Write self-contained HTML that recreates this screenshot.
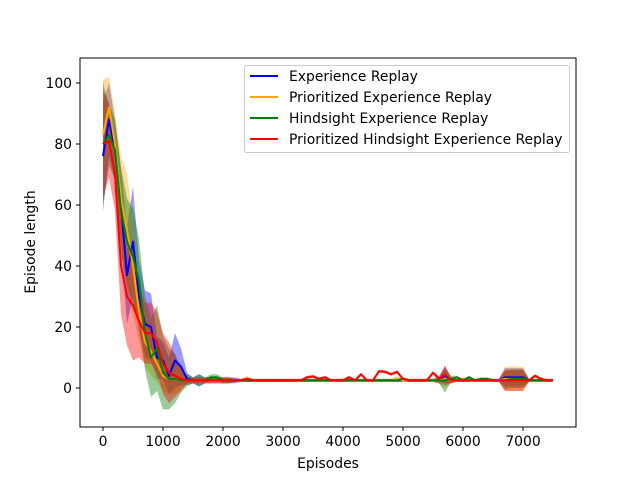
<!DOCTYPE html>
<html><head><meta charset="utf-8"><style>
body{margin:0;background:#fff;font-family:"DejaVu Sans","Liberation Sans",sans-serif;}
svg text{font-family:"DejaVu Sans","Liberation Sans",sans-serif;font-size:13.9px;fill:#000}
</style></head><body>
<svg id="chart" width="640" height="480" xmlns="http://www.w3.org/2000/svg">
<rect width="640" height="480" fill="#fff"/>
<g id="bands"></g>
<g id="lines"></g>
<rect x="80" y="58" width="496" height="369" fill="none" stroke="#000" stroke-width="1"/>
<g id="xticks"></g>
<g id="yticks"></g>
<text x="328" y="468" text-anchor="middle">Episodes</text>
<text transform="translate(35,242) rotate(-90)" text-anchor="middle">Episode length</text>
<g>
<rect x="244.5" y="65.5" width="325" height="87" rx="2" fill="#fff" fill-opacity="0.8" stroke="#ccc"/>
<g><line x1="250" y1="76" x2="278" y2="76" stroke="#0000ff" stroke-width="2"/><text x="289" y="81">Experience Replay</text></g>
<g><line x1="250" y1="97" x2="278" y2="97" stroke="#ffa500" stroke-width="2"/><text x="289" y="102">Prioritized Experience Replay</text></g>
<g><line x1="250" y1="118" x2="278" y2="118" stroke="#008000" stroke-width="2"/><text x="289" y="123">Hindsight Experience Replay</text></g>
<g><line x1="250" y1="139" x2="278" y2="139" stroke="#ff0000" stroke-width="2"/><text x="289" y="144">Prioritized Hindsight Experience Replay</text></g>
</g>
</svg>
<script>
const episodes = Array.from({length:76},(_, i)=>i*100);
const erMean = [76,88,78,60,37,48,30,21,20,10,9,4,9,7,3,2.5,2.5,2.5,2.5,2.5,2.5,2.5,2.5,2.5,2.5,2.5,2.5,2.5,2.5,2.5,2.5,2.5,2.5,2.5,2.5,2.5,2.5,2.5,2.5,2.5,2.5,2.5,2.5,2.5,2.5,2.5,2.5,2.5,2.5,2.5,2.5,2.5,2.5,2.5,2.5,2.5,2.5,4,2.5,2.5,2.5,2.5,2.5,2.5,2.5,2.5,2.5,3.5,3.5,3.5,3.5,2.5,2.5,2.5,2.5,2.5];
const erStd = [18,12,10,12,16,18,12,11,11,7,6,6,9,6,2,1,2,1,1,1,1,1,1,0.5,0.5,0.5,0.5,0.5,0.5,0.5,0.5,0.5,0.5,0.5,0.5,0.5,0.5,0.5,0.5,0.5,0.5,0.5,0.5,0.5,0.5,0.5,0.5,0.5,0.5,0.5,0.5,0.5,0.5,0.5,0.5,0.5,1,3,1,0.5,0.5,0.5,0.5,0.5,0.5,0.5,0.5,3,3,3,3,0.5,0.5,0.5,0.5,0.5];
const perMean = [83,92,80,62,52,40,25,15,12,8,4,3,3,2.5,2.5,2.5,2.5,2.5,2.5,2.5,2.5,2.5,2.5,2.5,3,2.5,2.5,2.5,2.5,2.5,2.5,2.5,2.5,2.5,2.5,2.5,2.5,2.5,2.5,2.5,2.5,2.5,2.5,2.5,2.5,2.5,2.5,2.5,2.5,3,2.5,2.5,2.5,2.5,2.5,2.5,2.5,3,2.5,2.5,3,2.5,2.5,2.5,2.5,2.5,2.5,3,3,3,3,2.5,2.5,2.5,2.5,2.5];
const perStd = [18,10,10,14,18,16,10,8,8,6,5,5,5,3,1,1,1,1,1,1,1,1,0.5,0.5,1,0.5,0.5,0.5,0.5,0.5,0.5,0.5,0.5,0.5,0.5,0.5,0.5,0.5,0.5,0.5,0.5,0.5,0.5,0.5,0.5,0.5,0.5,0.5,0.5,1,0.5,0.5,0.5,0.5,0.5,0.5,1,3,1,0.5,0.5,0.5,0.5,0.5,0.5,0.5,0.5,4,4,4,4,0.5,0.5,0.5,0.5,0.5];
const herMean = [80,83,78,58,48,43,35,18,10,13,5,3,3,2.5,2.5,2.5,2.5,2.5,3.5,3.5,2.5,2.5,2.5,2.5,2.5,2.5,2.5,2.5,2.5,2.5,2.5,2.5,2.5,2.5,2.5,2.5,2.5,2.5,2.5,2.5,2.5,2.5,2.5,2.5,2.5,2.5,2.5,2.5,2.5,2.5,3,2.5,2.5,2.5,2.5,2.5,2.5,2.5,3,3.5,2.5,3.5,2.5,3,3,2.5,2.5,2.5,3,3,3,2.5,2.5,2.5,2.5,2.5];
const herStd = [20,10,10,14,14,16,14,12,13,14,12,10,8,4,2,1,2,1,1,1,1,1,0.5,0.5,0.5,0.5,0.5,0.5,0.5,0.5,0.5,0.5,0.5,0.5,0.5,0.5,0.5,0.5,0.5,0.5,0.5,0.5,0.5,0.5,0.5,0.5,0.5,0.5,0.5,0.5,0.5,0.5,0.5,0.5,0.5,0.5,1,4,1,0.5,0.5,0.5,0.5,0.5,0.5,0.5,0.5,3,3,3,3,0.5,0.5,0.5,0.5,0.5];
const pherMean = [80,81,70,40,30,27,22,18,18,15,8,5,4,3,2.5,2.5,2.5,2.5,2.5,2.5,2.5,2.5,2.5,2.5,3,2.5,2.5,2.5,2.5,2.5,2.5,2.5,2.5,2.5,3.5,3.8,3,3.5,2.5,2.5,2.5,3.5,2.5,4.5,2.5,2.5,5.5,5.3,4.5,5.3,3,2.5,2.5,2.5,2.5,5,3,4.5,2.5,2.5,2.5,2.5,2.5,2.5,2.5,2.5,2.5,2.5,2.5,2.5,2.5,2.5,4,3,2.5,2.5];
const pherStd = [18,12,12,16,16,18,12,10,10,10,10,10,7,4,1,1,1,1,1,1,1,1,0.5,0.5,0.5,0.5,0.5,0.5,0.5,0.5,0.5,0.5,0.5,0.5,0.5,0.5,0.5,0.5,0.5,0.5,0.5,0.5,0.5,0.5,0.5,0.5,0.5,0.5,0.5,0.5,0.5,0.5,0.5,0.5,0.5,0.5,1,3,1,0.5,0.5,0.5,0.5,0.5,0.5,0.5,0.5,3.5,3.5,3.5,3.5,0.5,0.5,0.5,0.5,0.5];
const xTicks = [0,1000,2000,3000,4000,5000,6000,7000];
const yTicks = [0,20,40,60,80,100];

const NS="http://www.w3.org/2000/svg";
const xs = v => 103 + v*0.06;
const ys = v => 388 - v*3.05;
const series = [
 {name:'er', m:erMean, s:erStd, c:'#0000ff'},
 {name:'per', m:perMean, s:perStd, c:'#ffa500'},
 {name:'her', m:herMean, s:herStd, c:'#008000'},
 {name:'pher', m:pherMean, s:pherStd, c:'#ff0000'}];
const bands=document.getElementById('bands'), lines=document.getElementById('lines');
series.forEach(sr=>{
  let up=sr.m.map((v,i)=>xs(episodes[i])+','+ys(v+sr.s[i]));
  let dn=sr.m.map((v,i)=>xs(episodes[i])+','+ys(v-sr.s[i])).reverse();
  const p=document.createElementNS(NS,'polygon');
  p.setAttribute('points',up.concat(dn).join(' '));
  p.setAttribute('fill',sr.c);p.setAttribute('fill-opacity','0.4');
  
  
  bands.appendChild(p);
});
series.forEach(sr=>{
  const l=document.createElementNS(NS,'polyline');
  l.setAttribute('points',sr.m.map((v,i)=>xs(episodes[i])+','+ys(v)).join(' '));
  l.setAttribute('fill','none');l.setAttribute('stroke',sr.c);l.setAttribute('stroke-width','2');
  l.setAttribute('stroke-linejoin','round');
  
  
  lines.appendChild(l);
});
const xg=document.getElementById('xticks');
xTicks.forEach(t=>{
  const x=xs(t);
  const g=document.createElementNS(NS,'g');
  
  
  g.innerHTML=`<line x1="${x}" y1="427" x2="${x}" y2="431" stroke="#000"/><text x="${x}" y="446" text-anchor="middle">${t}</text>`;
  xg.appendChild(g);
});
const yg=document.getElementById('yticks');
yTicks.forEach(t=>{
  const y=ys(t);
  const g=document.createElementNS(NS,'g');
  
  
  g.innerHTML=`<line x1="76" y1="${y}" x2="80" y2="${y}" stroke="#000"/><text x="72" y="${y+5}" text-anchor="end">${t}</text>`;
  yg.appendChild(g);
});
</script>
</body></html>
